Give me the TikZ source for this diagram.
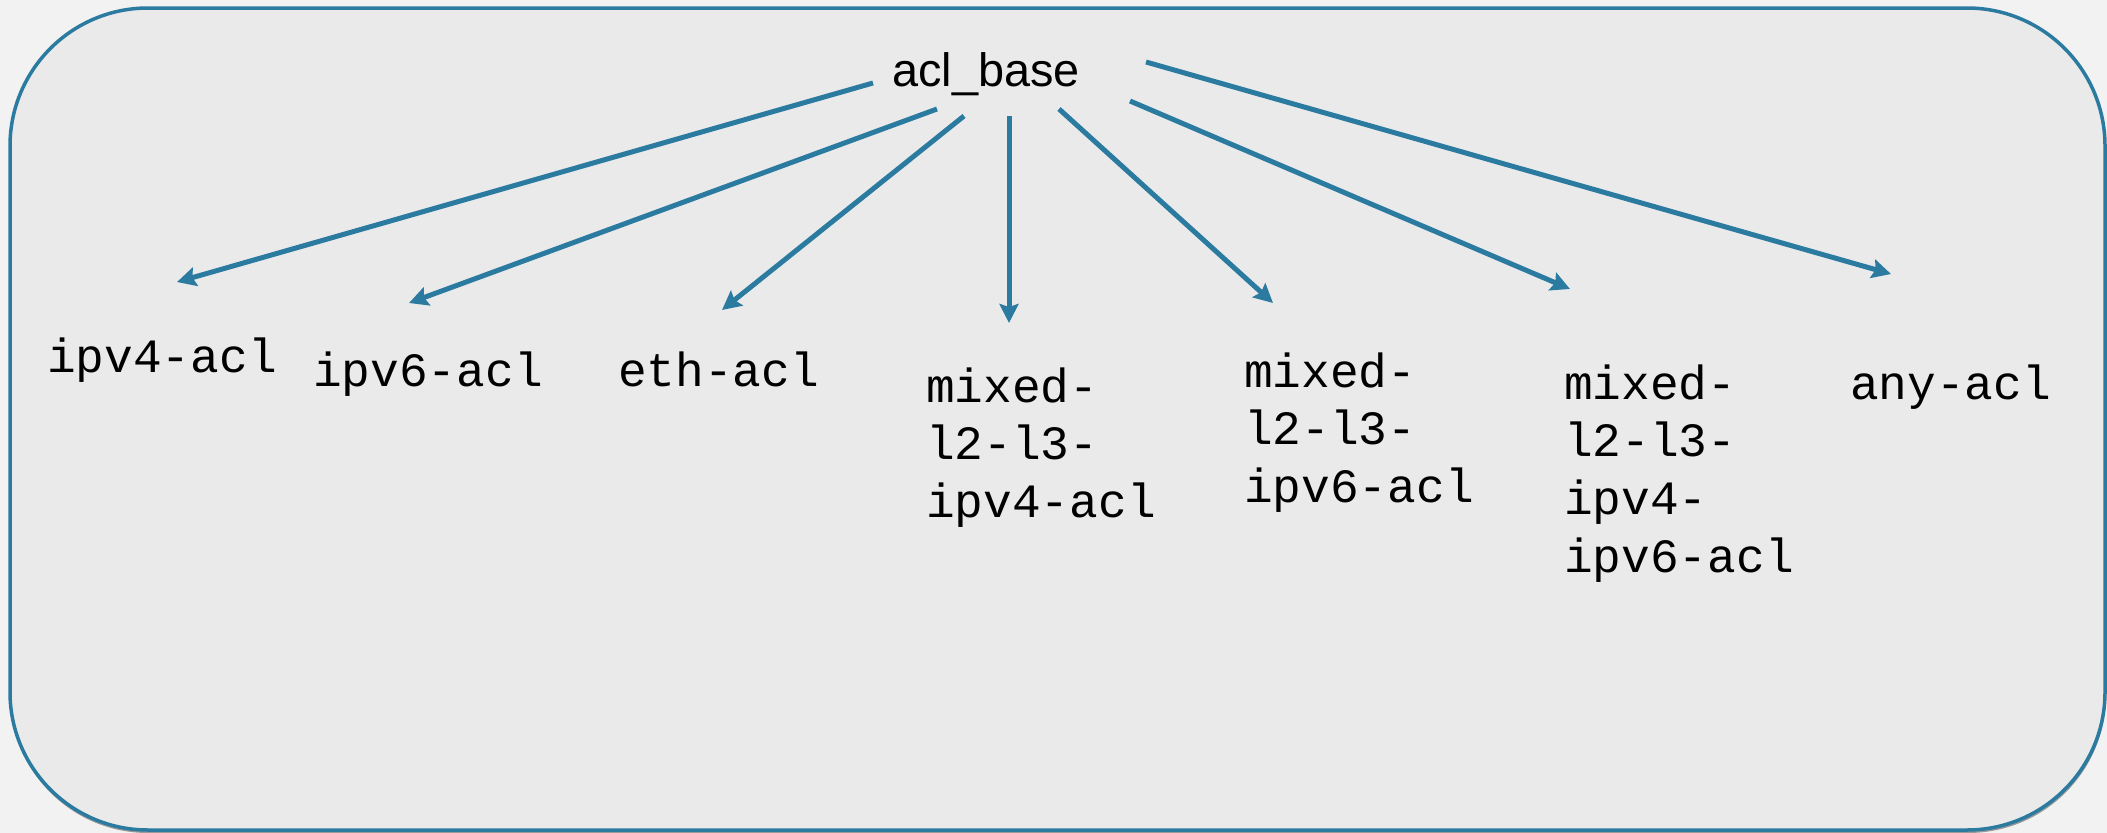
\documentclass[tikz,border=0pt]{standalone}
\usepackage{fontspec}
\setmainfont{Liberation Sans}
\newfontfamily\lblmono{Liberation Mono}
\usetikzlibrary{arrows.meta}
\definecolor{edgeblue}{HTML}{2B7BA1}
\definecolor{outerbg}{HTML}{F2F2F2}
\definecolor{innerbg}{HTML}{EAEAEA}
\definecolor{shadowgray}{HTML}{9A9A9A}
\newcommand\lblstrut{\rule{0pt}{40bp}}
\begin{document}
\begin{tikzpicture}[x=1bp,y=-1bp,
  lbl/.style={font=\lblmono\fontsize{48}{58}\selectfont, align=left, inner sep=0pt, anchor=north west},
  link/.style={draw=edgeblue, line width=5bp, -{Stealth[length=19bp,width=19bp,inset=3bp]}}]
\fill[outerbg] (0,0) rectangle (2107,833);
\useasboundingbox (0,0) rectangle (2107,833);
\fill[shadowgray, rounded corners=138bp] (10,11) rectangle (2106,833);
\filldraw[fill=innerbg, draw=edgeblue, line width=3.5bp, rounded corners=138bp] (10,8) rectangle (2105,830);

\node[font=\fontsize{47}{56}\selectfont, inner sep=0pt, anchor=base west] (base) at (892,86) {acl\_base};

\node[lbl] (ipvfour) at (47,332) {\lblstrut ipv4-acl};
\node[lbl] (ipvsix) at (313,346) {\lblstrut ipv6-acl};
\node[lbl] (eth) at (618,346) {\lblstrut eth-acl};
\node[lbl] (mixfour) at (926,362) {\lblstrut mixed-\\l2-l3-\\ipv4-acl};
\node[lbl] (mixsix) at (1244,347) {\lblstrut mixed-\\l2-l3-\\ipv6-acl};
\node[lbl] (mixboth) at (1564,359) {\lblstrut mixed-\\l2-l3-\\ipv4-\\ipv6-acl};
\node[lbl] (any) at (1850,359) {\lblstrut any-acl};

\coordinate (s1) at (873,83);   \coordinate (e1) at (177,282);
\coordinate (s2) at (937,109);  \coordinate (e2) at (409,303);
\coordinate (s3) at (964,116);  \coordinate (e3) at (722,310);
\coordinate (s4) at (1009,116); \coordinate (e4) at (1009,323);
\coordinate (s5) at (1059,109); \coordinate (e5) at (1273,303);
\coordinate (s6) at (1130,101); \coordinate (e6) at (1570,289);
\coordinate (s7) at (1146,62);  \coordinate (e7) at (1891,274);

\draw[link] (s1) -- (e1);
\draw[link] (s2) -- (e2);
\draw[link] (s3) -- (e3);
\draw[link] (s4) -- (e4);
\draw[link] (s5) -- (e5);
\draw[link] (s6) -- (e6);
\draw[link] (s7) -- (e7);
\end{tikzpicture}
\end{document}
